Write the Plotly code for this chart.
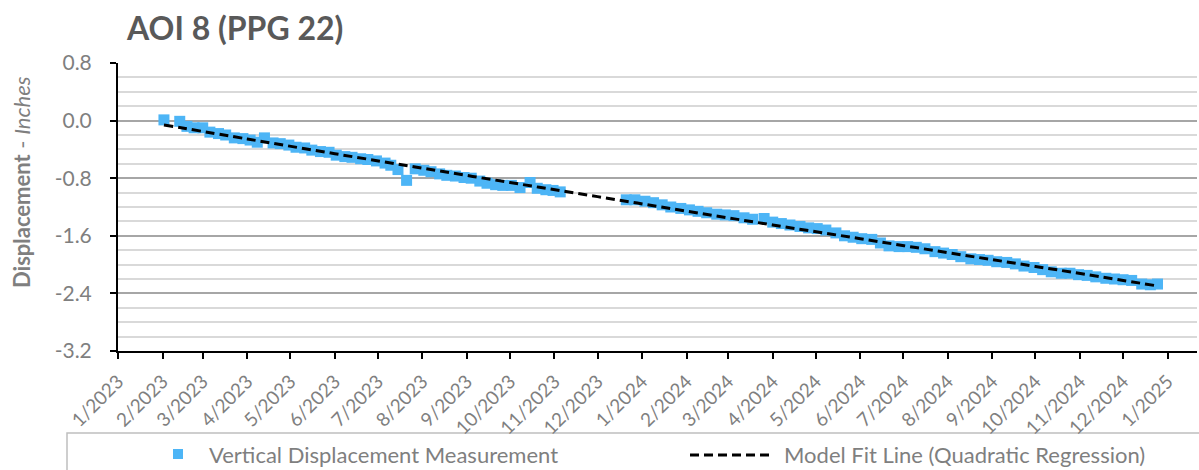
import plotly.graph_objects as go

# ---- Data ----
meas_dates = [
    "2023-02-02", "2023-02-13", "2023-02-18", "2023-02-23", "2023-03-01", "2023-03-06",
    "2023-03-12", "2023-03-17", "2023-03-23", "2023-03-29", "2023-04-03", "2023-04-08",
    "2023-04-13", "2023-04-19", "2023-04-24", "2023-04-30", "2023-05-05", "2023-05-11",
    "2023-05-16", "2023-05-22", "2023-05-28", "2023-06-02", "2023-06-08", "2023-06-13",
    "2023-06-19", "2023-06-24", "2023-06-30", "2023-07-06", "2023-07-10", "2023-07-15",
    "2023-07-21", "2023-07-27", "2023-08-02", "2023-08-07", "2023-08-13", "2023-08-18",
    "2023-08-24", "2023-08-30", "2023-09-04", "2023-09-10", "2023-09-15", "2023-09-21",
    "2023-09-26", "2023-10-02", "2023-10-08", "2023-10-15", "2023-10-20", "2023-10-26",
    "2023-10-31", "2023-11-05",
    "2023-12-21", "2023-12-27", "2024-01-03", "2024-01-09", "2024-01-15", "2024-01-21",
    "2024-01-28", "2024-02-03", "2024-02-09", "2024-02-15", "2024-02-22", "2024-02-28",
    "2024-03-05", "2024-03-12", "2024-03-18", "2024-03-26", "2024-04-01", "2024-04-07",
    "2024-04-13", "2024-04-20", "2024-04-26", "2024-05-02", "2024-05-08", "2024-05-15",
    "2024-05-21", "2024-05-27", "2024-06-02", "2024-06-09", "2024-06-15", "2024-06-21",
    "2024-06-28", "2024-07-04", "2024-07-10", "2024-07-16", "2024-07-23", "2024-07-29",
    "2024-08-04", "2024-08-10", "2024-08-17", "2024-08-23", "2024-08-29", "2024-09-04",
    "2024-09-11", "2024-09-17", "2024-09-23", "2024-09-30", "2024-10-06", "2024-10-12",
    "2024-10-19", "2024-10-25", "2024-10-31", "2024-11-06", "2024-11-12", "2024-11-19",
    "2024-11-25", "2024-12-01", "2024-12-07", "2024-12-14", "2024-12-20", "2024-12-25",
]
meas_values = [
    0.01, -0.01, -0.08, -0.10, -0.10, -0.16,
    -0.18, -0.20, -0.24, -0.25, -0.27, -0.30,
    -0.24, -0.31, -0.32, -0.34, -0.37, -0.38,
    -0.41, -0.43, -0.44, -0.48, -0.50, -0.51,
    -0.53, -0.54, -0.56, -0.59, -0.62, -0.68,
    -0.83, -0.67, -0.69, -0.71, -0.74, -0.76,
    -0.77, -0.79, -0.80, -0.84, -0.87, -0.89,
    -0.90, -0.90, -0.93, -0.86, -0.94, -0.96,
    -0.97, -0.99,
    -1.10, -1.10, -1.12, -1.14, -1.17, -1.20,
    -1.22, -1.24, -1.26, -1.28, -1.30, -1.31,
    -1.32, -1.35, -1.37, -1.36, -1.41, -1.43,
    -1.45, -1.47, -1.49, -1.50, -1.52, -1.56,
    -1.60, -1.62, -1.64, -1.65, -1.70, -1.74,
    -1.75, -1.75, -1.76, -1.78, -1.82, -1.84,
    -1.86, -1.89, -1.92, -1.93, -1.94, -1.96,
    -1.97, -1.99, -2.02, -2.04, -2.07, -2.10,
    -2.12, -2.12, -2.14, -2.15, -2.17, -2.19,
    -2.20, -2.21, -2.22, -2.27, -2.28, -2.27,
]

fit_dates = [
    "2023-02-02", "2023-04-01", "2023-06-01", "2023-08-01", "2023-10-01", "2023-12-01",
    "2024-02-01", "2024-04-01", "2024-06-01", "2024-08-01", "2024-10-01", "2024-12-23",
]
fit_values = [
    -0.06, -0.255, -0.46, -0.66, -0.86, -1.056,
    -1.257, -1.45, -1.64, -1.835, -2.025, -2.29,
]

y_tick_values = [0.8, 0.0, -0.8, -1.6, -2.4, -3.2]
y_tick_labels = ["0.8", "0.0", "-0.8", "-1.6", "-2.4", "-3.2"]

title_text = "AOI 8 (PPG 22)"
series_names = ["Vertical Displacement Measurement", "Model Fit Line (Quadratic Regression)"]

FONT = "Lato"
GRAY = "#7f7f7f"
BLUE = "#4DB5F6"

# plot-area geometry (pixels) used to place the hand-drawn legend
L, R, T, B = 118, 1197, 63, 351
def px(x):
    return (x - L) / (R - L)
def py(y):
    return (B - y) / (B - T)

fig = go.Figure()
fig.add_trace(go.Scatter(
    x=meas_dates, y=meas_values, mode="markers", name=series_names[0],
    marker=dict(symbol="square", size=11, color=BLUE, line=dict(width=0)),
    showlegend=False,
))
fig.add_trace(go.Scatter(
    x=fit_dates, y=fit_values, mode="lines", name=series_names[1],
    line=dict(color="black", width=3, dash="9px,5px", shape="spline"),
    showlegend=False,
))

legend_y = 454
shapes = [
    # legend frame (cut off by the right and bottom edges, as in the reference)
    dict(type="rect", xref="paper", yref="paper",
         x0=px(67), x1=px(1230), y0=py(500), y1=py(433),
         line=dict(color="#bfbfbf", width=1.5), fillcolor="rgba(0,0,0,0)", layer="below"),
    # legend symbol: square marker
    dict(type="rect", xref="paper", yref="paper",
         x0=px(173), x1=px(183), y0=py(legend_y + 5), y1=py(legend_y - 5),
         line=dict(width=0), fillcolor=BLUE),
    # legend symbol: dashed line
    dict(type="line", xref="paper", yref="paper",
         x0=px(690), x1=px(770), y0=py(legend_y + 1), y1=py(legend_y + 1),
         line=dict(color="black", width=3, dash="9px,5px")),
]

annotations = [
    dict(text="<b>Displacement</b> - <i>Inches</i>", xref="paper", yref="paper",
         x=px(21), y=py(182), textangle=-90,
         showarrow=False, xanchor="center", yanchor="middle",
         font=dict(family=FONT, size=22, color=GRAY)),
    dict(text=series_names[0], xref="paper", yref="paper",
         x=px(207), y=py(legend_y), xanchor="left", yanchor="middle", showarrow=False,
         font=dict(family=FONT, size=22, color=GRAY)),
    dict(text=series_names[1], xref="paper", yref="paper",
         x=px(782), y=py(legend_y), xanchor="left", yanchor="middle", showarrow=False,
         font=dict(family=FONT, size=22, color=GRAY)),
]

fig.update_layout(
    width=1199, height=470,
    margin=dict(l=L, r=1199 - R, t=T, b=470 - B, autoexpand=False),
    paper_bgcolor="white", plot_bgcolor="white",
    font=dict(family=FONT, color=GRAY),
    title=dict(text="<b>" + title_text + "</b>", x=127 / 1199, xanchor="left",
               y=1 - 29 / 470, yanchor="middle",
               font=dict(family=FONT, size=32, color="#595959")),
    showlegend=False,
    xaxis=dict(
        type="date", range=["2023-01-01", "2025-01-21 12:00"],
        tick0="2023-01-01", dtick="M1", tickformat="%-m/%Y", tickangle=-45,
        ticks="outside", ticklen=6, tickwidth=2, tickcolor="black",
        showline=True, linecolor="black", linewidth=2,
        showgrid=False, zeroline=False, automargin=False,
        ticklabelstandoff=4,
        tickfont=dict(family=FONT, size=19, color=GRAY),
    ),
    yaxis=dict(
        range=[-3.2, 0.8], tickmode="array", tickvals=y_tick_values, ticktext=y_tick_labels,
        ticks="outside", ticklen=6, tickwidth=2, tickcolor="black",
        showline=True, linecolor="black", linewidth=2,
        showgrid=True, gridcolor="#a6a6a6", gridwidth=2,
        zeroline=False, automargin=False,
        ticklabelstandoff=14,
        minor=dict(tick0=-3.2, dtick=0.2, showgrid=True, gridcolor="#d9d9d9", gridwidth=1.5, ticks=""),
        tickfont=dict(family=FONT, size=21, color=GRAY),
    ),
    shapes=shapes,
    annotations=annotations,
)

fig.write_html("out.html",
               config={"displayModeBar": False},
               post_script="document.body.style.margin='0';document.body.style.padding='0';")
